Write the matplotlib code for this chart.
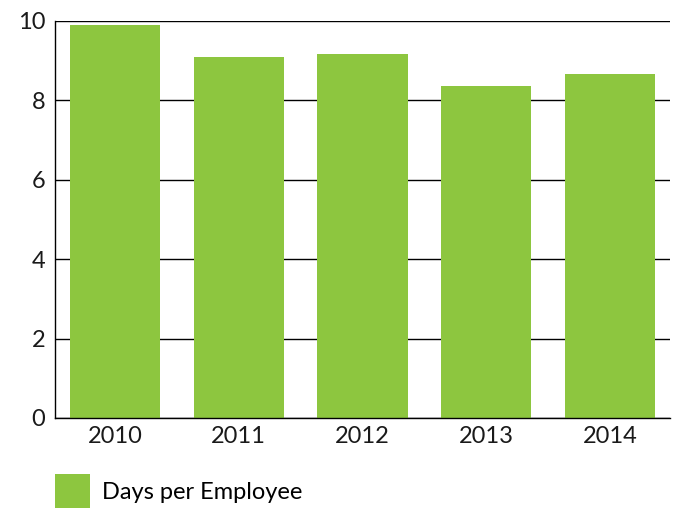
import numpy as np
import matplotlib
matplotlib.use("Agg")
import matplotlib.pyplot as plt

# absence days per employee by year
years = ["2010", "2011", "2012", "2013", "2014"]
days_per_employee = [9.88, 9.09, 9.15, 8.36, 8.66]

plt.rcParams['font.family'] = ['Lato', 'DejaVu Sans']

fig = plt.figure(figsize=(6.81, 5.09), dpi=100)
ax = fig.add_axes([0.0808, 0.1788, 0.9032, 0.7805])

x = np.arange(len(years))
ax.bar(x, days_per_employee, width=0.73, color="#8DC63F", zorder=2,
       label="Days per Employee")

ax.set_xlim(-0.485, len(years) - 1 + 0.485)
ax.set_ylim(0, 10)
ax.set_yticks([0, 2, 4, 6, 8, 10])
ax.set_xticks(x)
ax.set_xticklabels(years)
ax.tick_params(axis="both", length=0, labelsize=17, colors="#1a1a1a")
ax.tick_params(axis="y", pad=7)
ax.tick_params(axis="x", pad=6)

# black horizontal gridlines
ax.yaxis.grid(True, color="black", linewidth=1.0, zorder=1)
ax.set_axisbelow(True)
for side in ["top", "right"]:
    ax.spines[side].set_visible(False)
ax.spines["left"].set_color("black")
ax.spines["bottom"].set_color("black")
ax.spines["left"].set_linewidth(1.0)
ax.spines["bottom"].set_linewidth(1.0)

fig.legend(loc="upper left", bbox_to_anchor=(0.0808, 0.069), frameon=False,
           fontsize=17, handlelength=1.5, handleheight=1.85, handletextpad=0.5,
           borderaxespad=0, borderpad=0)

fig.savefig("out.png", dpi=100)
